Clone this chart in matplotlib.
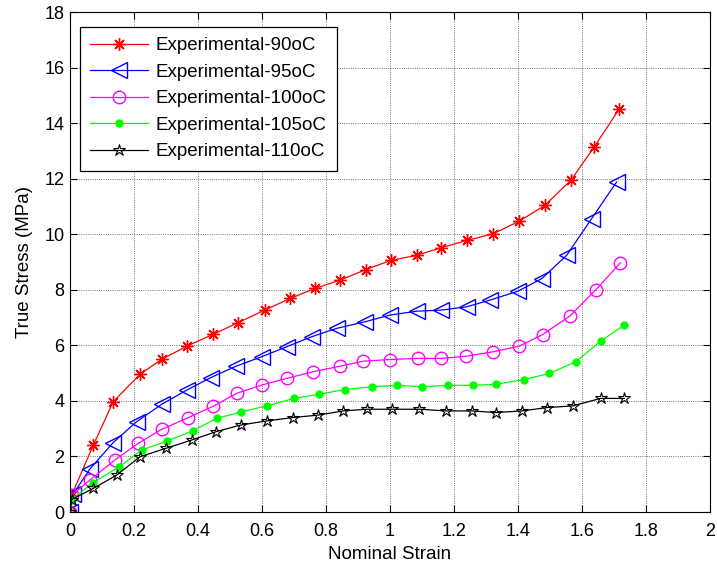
import matplotlib
matplotlib.use('Agg')
import matplotlib.pyplot as plt

plt.rcParams['font.family'] = ['Liberation Sans', 'DejaVu Sans']

# Nominal strain / true stress (MPa) for each test temperature
strain_90 = [0, 0.005, 0.073, 0.135, 0.219, 0.287, 0.367, 0.448, 0.526, 0.609, 0.688, 0.766,
             0.844, 0.925, 1.003, 1.083, 1.161, 1.242, 1.323, 1.404, 1.484, 1.565, 1.638, 1.717]
stress_90 = [0, 0.6, 2.41, 3.97, 4.96, 5.5, 5.98, 6.4, 6.82, 7.27, 7.69, 8.05,
             8.35, 8.73, 9.06, 9.24, 9.52, 9.78, 10.02, 10.47, 11.04, 11.94, 13.14, 14.52]

strain_95 = [0, 0.01, 0.0625, 0.135, 0.208, 0.287, 0.365, 0.44, 0.519, 0.599, 0.677, 0.755,
             0.833, 0.922, 1.0, 1.083, 1.161, 1.24, 1.3125, 1.40, 1.474, 1.552, 1.63, 1.708]
stress_95 = [0, 0.65, 1.55, 2.5, 3.25, 3.88, 4.39, 4.84, 5.25, 5.59, 5.95, 6.31,
             6.61, 6.85, 7.09, 7.23, 7.27, 7.39, 7.63, 7.95, 8.4, 9.24, 10.56, 11.88]

strain_100 = [0, 0.005, 0.0625, 0.14, 0.213, 0.287, 0.37, 0.448, 0.521, 0.599, 0.677, 0.76,
              0.844, 0.917, 1.0, 1.089, 1.161, 1.2375, 1.323, 1.404, 1.477, 1.5625, 1.644, 1.72]
stress_100 = [0, 0.6, 1.15, 1.87, 2.47, 2.98, 3.4, 3.81, 4.27, 4.57, 4.81, 5.05,
              5.25, 5.43, 5.49, 5.53, 5.53, 5.61, 5.77, 5.97, 6.39, 7.06, 8.01, 8.97]

strain_105 = [0, 0.005, 0.071, 0.154, 0.224, 0.302, 0.383, 0.458, 0.536, 0.615, 0.70, 0.779,
              0.859, 0.943, 1.021, 1.101, 1.18, 1.258, 1.331, 1.419, 1.498, 1.581, 1.658, 1.732]
stress_105 = [0, 0.45, 1.05, 1.63, 2.23, 2.55, 2.92, 3.37, 3.61, 3.82, 4.09, 4.24,
              4.41, 4.51, 4.56, 4.51, 4.56, 4.56, 4.60, 4.77, 4.99, 5.41, 6.15, 6.73]

strain_110 = [0, 0.005, 0.073, 0.146, 0.219, 0.299, 0.38, 0.456, 0.533, 0.615, 0.696, 0.776,
              0.854, 0.929, 1.005, 1.092, 1.175, 1.255, 1.331, 1.413, 1.49, 1.571, 1.658, 1.732]
stress_110 = [0, 0.45, 0.85, 1.33, 1.99, 2.29, 2.59, 2.89, 3.13, 3.28, 3.40, 3.49,
              3.64, 3.70, 3.70, 3.70, 3.64, 3.64, 3.58, 3.64, 3.76, 3.82, 4.09, 4.09]

labels = ['Experimental-90oC', 'Experimental-95oC', 'Experimental-100oC',
          'Experimental-105oC', 'Experimental-110oC']

x_ticks = [0, 0.2, 0.4, 0.6, 0.8, 1.0, 1.2, 1.4, 1.6, 1.8, 2.0]
x_tick_labels = ['0', '0.2', '0.4', '0.6', '0.8', '1', '1.2', '1.4', '1.6', '1.8', '2']
y_ticks = [0, 2, 4, 6, 8, 10, 12, 14, 16, 18]

fig = plt.figure(figsize=(7.17, 5.74), dpi=100)
ax = fig.add_axes([0.0976, 0.108, 0.8926, 0.871])

ax.plot(strain_90, stress_90, color='#ff0000', lw=0.9, marker=(8, 2, 0),
        ms=9, mew=1.0, label=labels[0])
ax.plot(strain_95, stress_95, color='#0000ff', lw=0.9, marker='<',
        ms=11, mfc='none', mew=1.0, label=labels[1])
ax.plot(strain_100, stress_100, color='#ff00ff', lw=0.9, marker='o',
        ms=9, mfc='none', mew=1.0, label=labels[2])
ax.plot(strain_105, stress_105, color='#00ff00', lw=0.9, marker='o',
        ms=5, mfc='#00ff00', mec='#00ff00', label=labels[3])
ax.plot(strain_110, stress_110, color='black', lw=0.9, marker='*',
        ms=9, mfc='none', mew=0.8, label=labels[4])

ax.set_xlim(0, 2)
ax.set_ylim(0, 18)
ax.set_xticks(x_ticks)
ax.set_xticklabels(x_tick_labels)
ax.set_yticks(y_ticks)
ax.grid(True, color='black', linestyle=':', linewidth=0.6, alpha=0.7)
ax.tick_params(direction='in', top=True, right=True, labelsize=13, length=5)
ax.tick_params(axis='x', pad=8)
ax.tick_params(axis='y', pad=4)
for s in ax.spines.values():
    s.set_linewidth(0.8)

ax.set_xlabel('Nominal Strain', fontsize=13.5, labelpad=4)
ax.set_ylabel('True Stress (MPa)', fontsize=13.5, labelpad=8)

leg = ax.legend(loc='upper left', bbox_to_anchor=(0.0156, 0.97), borderaxespad=0,
                fontsize=13.5, frameon=True, fancybox=False, edgecolor='black',
                framealpha=1, handlelength=3.1, handletextpad=0.4,
                borderpad=0.55, labelspacing=0.5)
leg.get_frame().set_linewidth(0.9)

plt.savefig('out.png', dpi=100)
plt.close()
